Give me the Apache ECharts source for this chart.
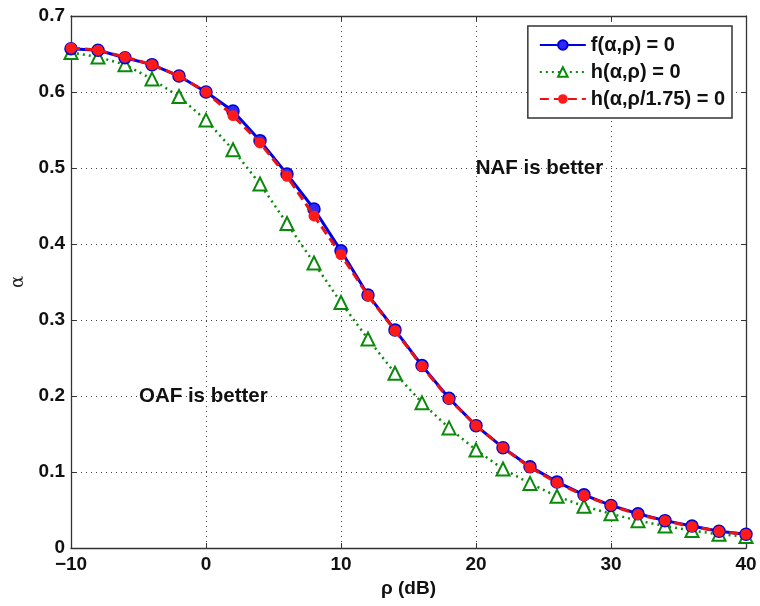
<!DOCTYPE html>
<html>
<head>
<meta charset="utf-8">
<script src="https://cdn.jsdelivr.net/npm/echarts@6/dist/echarts.min.js"></script>
<style>
html,body{margin:0;padding:0;background:#fff;}
#chart{width:760px;height:606px;}
</style>
</head>
<body>
<div id="chart"></div>
<script>
const rho = [-10,-8,-6,-4,-2,0,2,4,6,8,10,12,14,16,18,20,22,24,26,28,30,32,34,36,38,40];
const fAlpha = [0.657,0.655,0.645,0.636,0.621,0.600,0.575,0.536,0.492,0.446,0.391,0.333,0.287,0.240,0.197,0.161,0.132,0.107,0.087,0.070,0.056,0.045,0.036,0.029,0.022,0.018];
const hAlpha = [0.652,0.646,0.636,0.617,0.594,0.563,0.524,0.479,0.427,0.375,0.323,0.275,0.230,0.191,0.158,0.129,0.104,0.085,0.068,0.055,0.045,0.036,0.029,0.023,0.018,0.015];
const hScaled = [0.658,0.655,0.646,0.636,0.621,0.600,0.569,0.533,0.489,0.437,0.386,0.332,0.286,0.239,0.196,0.161,0.132,0.106,0.086,0.069,0.056,0.044,0.036,0.028,0.022,0.018];
const seriesNames = ['f(\u03b1,\u03c1) = 0','h(\u03b1,\u03c1) = 0','h(\u03b1,\u03c1/1.75) = 0'];
const annotations = [
  {text:'OAF is better', x:-0.2, y:0.2},
  {text:'NAF is better', x:24.7, y:0.5}
];

function pairs(xs, ys){ return xs.map((x,i)=>[x,ys[i]]); }

const chart = echarts.init(document.getElementById('chart'), null, {renderer:'canvas'});
const FONT = '"Liberation Sans", Arial, sans-serif';
const gridStyle = {show:true, lineStyle:{color:'#444', width:1, type:[1,4]}};
const axisLine = {show:true, onZero:false, lineStyle:{color:'#333', width:1.3}};
const tick = {show:true, inside:true, length:5, lineStyle:{color:'#333'}};

const option = {
  animation:false,
  backgroundColor:'#fff',
  grid:{left:71, right:14, top:16, bottom:58, show:false},
  legend:{
    orient:'vertical', right:28, top:26,
    data:seriesNames,
    backgroundColor:'#fff',
    borderColor:'#333', borderWidth:1.5,
    padding:[9,7,9,11],
    itemWidth:46, itemHeight:12, itemGap:7,
    textStyle:{fontFamily:FONT, fontWeight:'bold', fontSize:20, color:'#111'}
  },
  xAxis:[{
    type:'value', min:-10, max:40, interval:10,
    axisLine:axisLine, axisTick:tick,
    axisLabel:{fontFamily:FONT, fontWeight:'bold', fontSize:19, color:'#111', margin:7,
      formatter:v=> v<0 ? '\u2212'+(-v) : String(v)},
    splitLine:gridStyle,
    name:'\u03c1 (dB)', nameLocation:'middle', nameGap:31,
    nameTextStyle:{fontFamily:FONT, fontWeight:'bold', fontSize:19, color:'#111'}
  },{
    type:'value', min:-10, max:40, interval:10, position:'top',
    axisLine:axisLine, axisTick:tick,
    axisLabel:{show:false}, splitLine:{show:false}
  }],
  yAxis:[{
    type:'value', min:0, max:0.7, interval:0.1,
    axisLine:axisLine, axisTick:tick,
    axisLabel:{fontFamily:FONT, fontWeight:'bold', fontSize:19, color:'#111', margin:6},
    splitLine:gridStyle,
    name:'\u03b1', nameLocation:'middle', nameGap:44, nameRotate:90,
    nameTextStyle:{fontFamily:'"DejaVu Serif", serif', fontSize:18, color:'#222'}
  },{
    type:'value', min:0, max:0.7, interval:0.1, position:'right',
    axisLine:axisLine, axisTick:tick,
    axisLabel:{show:false}, splitLine:{show:false}
  }],
  series:[
    {
      name:seriesNames[1], type:'line', data:pairs(rho,hAlpha),
      symbol:'emptyTriangle', symbolSize:13,
      lineStyle:{color:'#0a8a0a', width:2.5, type:[2,4]},
      itemStyle:{color:'#0a8a0a', borderColor:'#0a8a0a', borderWidth:2.8},
      z:2
    },
    {
      name:seriesNames[0], type:'line', data:pairs(rho,fAlpha),
      symbol:'circle', symbolSize:12,
      lineStyle:{color:'#0000e6', width:3},
      itemStyle:{color:'#2a2aff', borderColor:'#0000d0', borderWidth:1.5},
      z:3
    },
    {
      name:seriesNames[2], type:'line', data:pairs(rho,hScaled),
      symbol:'circle', symbolSize:11,
      lineStyle:{color:'#ee1111', width:3, type:[9,5]},
      itemStyle:{color:'#ff1a1a'},
      z:4
    }
  ]
};
chart.setOption(option);

const g = annotations.map(a=>{
  const p = chart.convertToPixel({xAxisIndex:0, yAxisIndex:0}, [a.x, a.y]);
  return {type:'text', x:p[0], y:p[1], z:10,
    style:{text:a.text, fill:'#111', font:'bold 20.5px '+FONT, align:'center', verticalAlign:'middle'}};
});
chart.setOption({graphic:g});
</script>
</body>
</html>
